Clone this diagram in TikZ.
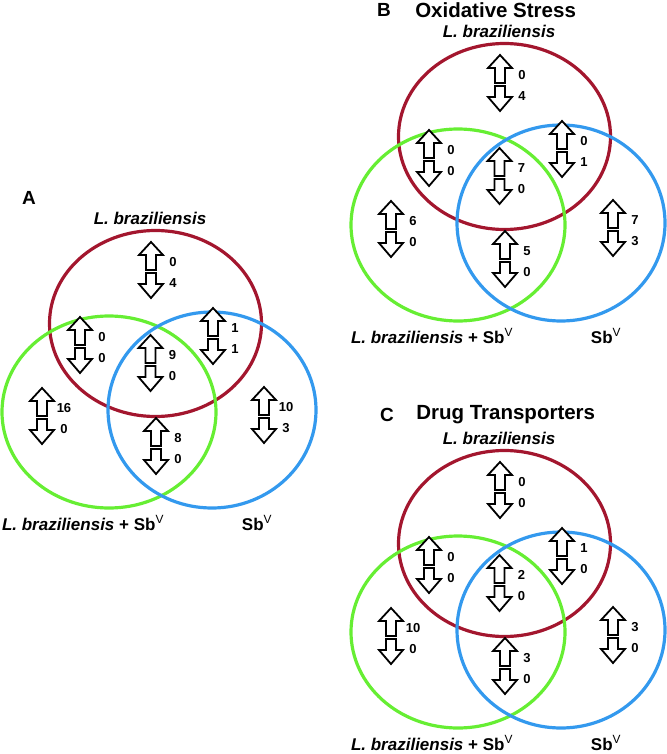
\documentclass[tikz,border=0pt]{standalone}
\usepackage{fontspec}
\setmainfont{Liberation Sans}
\usetikzlibrary{positioning}

\definecolor{lbred}{HTML}{A3162E}
\definecolor{mixgreen}{HTML}{66EE33}
\definecolor{sbblue}{HTML}{3399EE}

% one up/down pair with its two counts
\newcommand{\updown}[4]{%
  \begin{scope}[shift={(#2)}]
    \coordinate (#1) at (0,0);
    \draw[arrowbox] (0,0) -- (12,-13) -- (5,-13) -- (5,-28) -- (-5,-28) -- (-5,-13) -- (-12,-13) -- cycle;
    \draw[arrowbox] (-5,-31) -- (5,-31) -- (5,-42) -- (12,-42) -- (0,-56) -- (-12,-42) -- (-5,-42) -- cycle;
    \node[count] (#1-up) at (22,-20) {#3};
    \node[count] (#1-down) at (22,-41) {#4};
  \end{scope}}

% the three sets of one panel
\newcommand{\vennsets}[1]{%
  \coordinate (#1-lb) at (155.5,-323.5);
  \coordinate (#1-mix) at (109,-412);
  \coordinate (#1-sb) at (212,-410);
  \draw[lbset] (#1-lb) ellipse [x radius=106, y radius=93];
  \draw[mixset] (#1-mix) ellipse [x radius=107, y radius=96];
  \draw[sbset] (#1-sb) ellipse [x radius=104, y radius=98];
  \node[setlabel] (#1-lbname) at (150,-218) {\textit{L. braziliensis}};
  \node[setlabel] (#1-mixname) at (83,-523) {\textit{L. braziliensis} + Sb\textsuperscript{\mdseries V}};
  \node[setlabel] (#1-sbname) at (257,-523) {Sb\textsuperscript{\mdseries V}};}

\begin{document}
\begin{tikzpicture}[x=1pt, y=1pt,
    arrowbox/.style={draw, fill=white, line width=1.8pt, line join=miter},
    count/.style={font=\fontsize{13}{13}\selectfont\bfseries, inner sep=0pt},
    setlabel/.style={font=\fontsize{17}{17}\selectfont\bfseries, inner sep=0pt},
    panel/.style={font=\fontsize{19}{19}\selectfont\bfseries, inner sep=0pt},
    title/.style={font=\fontsize{20.5}{20.5}\selectfont\bfseries, inner sep=0pt},
    lbset/.style={draw=lbred, line width=3.2pt},
    mixset/.style={draw=mixgreen, line width=3.2pt},
    sbset/.style={draw=sbblue, line width=3.2pt}]
  \useasboundingbox (0,0) rectangle (666,-754);

  % A: all genes
  \node[panel] (pA) at (29,-197.5) {A};
  \vennsets{A}
  \updown{A1}{151,-242}{0}{4}
  \updown{A2}{80,-317}{0}{0}
  \updown{A3}{150.5,-335}{9}{0}
  \updown{A4}{213,-308}{1}{1}
  \updown{A5}{42,-388}{16}{0}
  \updown{A6}{156,-418}{8}{0}
  \updown{A7}{264,-387}{10}{3}

  % B: oxidative stress
  \node[panel] (pB) at (384,-10) {B};
  \node[title, right=24pt of pB] (tB) {Oxidative Stress};
  \begin{scope}[shift={(349,187)}]
    \vennsets{B}
    \updown{B1}{151,-242}{0}{4}
    \updown{B2}{80,-317}{0}{0}
    \updown{B3}{150.5,-335}{7}{0}
    \updown{B4}{213,-308}{0}{1}
    \updown{B5}{42,-388}{6}{0}
    \updown{B6}{156,-418}{5}{0}
    \updown{B7}{264,-387}{7}{3}
  \end{scope}

  % C: drug transporters
  \node[panel] (pC) at (387,-415) {C};
  \node[title, right=22pt of pC] (tC) {Drug Transporters};
  \begin{scope}[shift={(349,-220)}]
    \vennsets{C}
    \updown{C1}{151,-242}{0}{0}
    \updown{C2}{80,-317}{0}{0}
    \updown{C3}{150.5,-335}{2}{0}
    \updown{C4}{213,-308}{1}{0}
    \updown{C5}{42,-388}{10}{0}
    \updown{C6}{156,-418}{3}{0}
    \updown{C7}{264,-387}{3}{0}
  \end{scope}
\end{tikzpicture}
\end{document}
